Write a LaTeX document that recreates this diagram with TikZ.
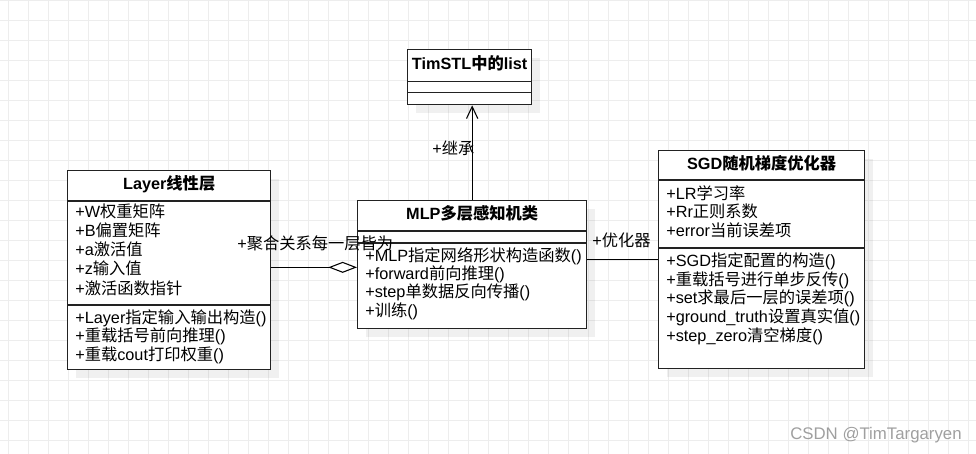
\documentclass[tikz,border=0pt]{standalone}
\usepackage{fontspec}
\setmainfont{Liberation Sans}
\newfontfamily\zhfont{Noto Sans CJK SC}
\newcommand{\zh}[1]{{\zhfont #1}}
\usepackage{tikz}
\usetikzlibrary{arrows.meta,shadows,positioning}
\definecolor{umlline}{RGB}{34,34,34}
\definecolor{umlgrid}{RGB}{237,237,237}

\tikzset{
  umlclass/.style={draw=umlline, line width=1pt, fill=white, inner sep=0pt, anchor=north west,
    drop shadow={shadow xshift=6pt, shadow yshift=-6pt, fill=black, opacity=0.06}},
  compline/.style={draw=umlline, line width=1pt},
  member/.style={anchor=west, inner sep=0pt, text height=9pt, text depth=2.5pt,
    font=\fontsize{12.2}{14}\selectfont},
  umltitle/.style={member, anchor=center, font=\fontsize{12.2}{14}\selectfont\bfseries},
  link/.style={draw=black, line width=0.8pt},
}

\begin{document}
\begin{tikzpicture}[x=0.75pt, y=-0.75pt]
    \useasboundingbox (0,0) rectangle (976,454);

    % Grid
    \foreach \gx in {8,28,...,968} \draw[umlgrid, line width=0.6pt] (\gx,0) -- (\gx,454);
    \foreach \gy in {0,20,...,440} \draw[umlgrid, line width=0.6pt] (0,\gy) -- (976,\gy);

    % Classes
    \node[umlclass, minimum width=93pt, minimum height=41.25pt] (timstl) at (407,49) {};
    \node[umlclass, minimum width=152.25pt, minimum height=149.25pt] (layer) at (67,170) {};
    \node[umlclass, minimum width=171.75pt, minimum height=96pt] (mlp) at (357,200) {};
    \node[umlclass, minimum width=154.5pt, minimum height=163.5pt] (sgd) at (658,150) {};

    % Compartments
    \draw[compline] (timstl.west |- 0,81.5) -- (timstl.east |- 0,81.5);
    \draw[compline] (timstl.west |- 0,92.5) -- (timstl.east |- 0,92.5);
    \draw[compline] (layer.west |- 0,201) -- (layer.east |- 0,201);
    \draw[compline] (layer.west |- 0,305) -- (layer.east |- 0,305);
    \draw[compline] (mlp.west |- 0,231) -- (mlp.east |- 0,231);
    \draw[compline] (mlp.west |- 0,243) -- (mlp.east |- 0,243);
    \draw[compline] (sgd.west |- 0,180) -- (sgd.east |- 0,180);
    \draw[compline] (sgd.west |- 0,248) -- (sgd.east |- 0,248);

    % Titles
    \node[umltitle] (timstl-title) at (timstl.north |- 0,65) {TimSTL\zh{中的}list};
    \node[umltitle] (layer-title) at (layer.north |- 0,185.5) {Layer\zh{线性层}};
    \node[umltitle] (mlp-title) at (mlp.north |- 0,215.5) {MLP\zh{多层感知机类}};
    \node[umltitle] (sgd-title) at (sgd.north |- 0,165) {SGD\zh{随机梯度优化器}};

    % Members
    \foreach \t [count=\i] in {+W\zh{权重矩阵}, +B\zh{偏置矩阵}, +a\zh{激活值}, +z\zh{输入值}, +\zh{激活函数指针}}
        \node[member] (layer-attr-\i) at (75,{213+19.2*(\i-1)}) {\t};
    \foreach \t [count=\i] in {+Layer\zh{指定输入输出构造}(), +\zh{重载括号前向推理}(), +\zh{重载}cout\zh{打印权重}()}
        \node[member] (layer-op-\i) at (75,{319+18.5*(\i-1)}) {\t};
    \foreach \t [count=\i] in {+MLP\zh{指定网络形状构造函数}(), +forward\zh{前向推理}(), +step\zh{单数据反向传播}(), +\zh{训练}()}
        \node[member] (mlp-op-\i) at (365,{257+18.3*(\i-1)}) {\t};
    \foreach \t [count=\i] in {+LR\zh{学习率}, +Rr\zh{正则系数}, +error\zh{当前误差项}}
        \node[member] (sgd-attr-\i) at (666,{195+18.5*(\i-1)}) {\t};
    \foreach \t [count=\i] in {+SGD\zh{指定配置的构造}(), +\zh{重载括号进行单步反传}(), +set\zh{求最后一层的误差项}(), +ground\_truth\zh{设置真实值}(), +step\_zero\zh{清空梯度}()}
        \node[member] (sgd-op-\i) at (666,{262+18.75*(\i-1)}) {\t};

    % Relations
    \draw[link, -{Straight Barb[length=9pt, width=8.5pt]}] (mlp.north) -- (mlp.north |- timstl.south);
    \coordinate (aggend) at ([yshift=-2pt]mlp.west);
    \draw[link, -{Diamond[open, length=21.5pt, width=8.25pt]}] (layer.east |- aggend) -- (aggend);
    \draw[link] (mlp.east |- sgd.west) -- (sgd.west);

    % Relation labels
    \node[member] (inherit-label) at (432,150) {+\zh{继承}};
    \node[member] (agg-label) at (237,245) {+\zh{聚合关系每一层皆为}};
    \node[member] (opt-label) at (592,242) {+\zh{优化器}};

    \node[member, text=gray!75, font=\fontsize{12.6}{14}\selectfont] (watermark) at (790,435) {CSDN @TimTargaryen};
\end{tikzpicture}
\end{document}
